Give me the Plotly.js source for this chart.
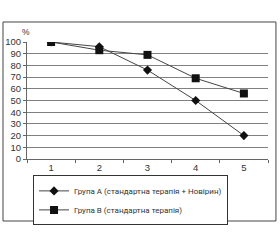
<!DOCTYPE html>
<html><head><meta charset="utf-8">
<script src="https://cdn.plot.ly/plotly-3.0.1.min.js"></script>
<style>html,body{margin:0;padding:0;background:#fff}</style>
</head><body>
<div id="chart" style="width:280px;height:240px"></div>
<script>
var categories = ['1', '2', '3', '4', '5'];
var groupA = [100, 96, 76, 50, 20];
var groupB = [100, 93, 89, 69, 56];
var nameA = 'Група А (стандартна терапія + Новірин)';
var nameB = 'Група В (стандартна терапія)';
var yTicks = [0, 10, 20, 30, 40, 50, 60, 70, 80, 90, 100];

var fam = '"Liberation Sans", Arial, sans-serif';
var legFam = 'Roboto, "Liberation Sans", sans-serif';
var font = {family: fam, size: 9.5, color: '#333'};

var traces = [
  {x: categories, y: groupA, name: nameA, type: 'scatter', mode: 'lines+markers',
   line: {color: '#444', width: 1}, marker: {symbol: 'diamond', size: 7, color: '#111'}},
  {x: categories, y: groupB, name: nameB, type: 'scatter', mode: 'lines+markers',
   line: {color: '#444', width: 1}, marker: {symbol: 'square', size: 8, color: '#111'}}
];

var layout = {
  width: 280, height: 240,
  margin: {l: 27, r: 12, t: 42, b: 81},
  paper_bgcolor: '#fff', plot_bgcolor: '#fff',
  font: font,
  showlegend: true,
  legend: {x: 0.025, y: -0.14, xanchor: 'left', yanchor: 'top',
    bordercolor: '#333', borderwidth: 1, bgcolor: '#fff',
    font: {family: legFam, size: 8, color: '#333'}, tracegroupgap: 0, itemwidth: 30},
  xaxis: {type: 'category', range: [-0.5, 4.5], showgrid: false, zeroline: false,
    showline: true, linecolor: '#666', linewidth: 1, ticks: 'outside', ticklen: 3,
    tickcolor: '#666', tickson: 'boundaries', tickfont: {family: fam, size: 9.5, color: '#333'}, fixedrange: true},
  yaxis: {range: [0, 100], tickvals: yTicks, showgrid: true, gridcolor: '#808080', gridwidth: 1,
    zeroline: false, showline: true, linecolor: '#666', linewidth: 1, ticks: 'outside',
    ticklen: 3, tickcolor: '#666', tickfont: {family: fam, size: 9.5, color: '#333'}, fixedrange: true},
  shapes: [
    {type: 'rect', xref: 'paper', yref: 'paper', x0: -0.0996, x1: 1.033, y0: -0.53, y1: 1.171,
     line: {color: '#444', width: 1}, fillcolor: 'rgba(0,0,0,0)', layer: 'below'}
  ],
  annotations: [
    {text: '%', xref: 'paper', yref: 'paper', x: -0.006, y: 1.085, xanchor: 'center', yanchor: 'middle',
     showarrow: false, font: {family: fam, size: 8.5, color: '#333'}}
  ]
};

Plotly.newPlot('chart', traces, layout, {displayModeBar: false, staticPlot: true});
</script>
</body></html>
